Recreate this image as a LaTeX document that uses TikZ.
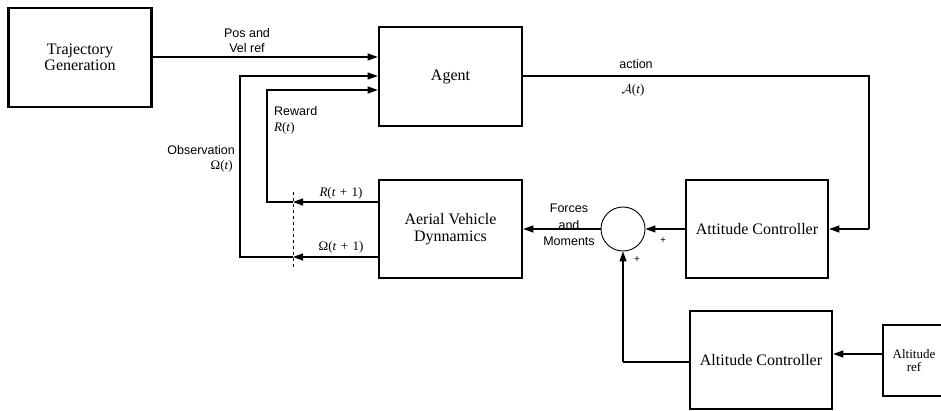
\RequirePackage{fix-cm}
\documentclass[tikz,border=0pt]{standalone}
\usepackage{fontspec}
\setmainfont{Liberation Serif}
\setsansfont{Liberation Sans}
\usetikzlibrary{arrows.meta,calc}
\begin{document}
\begin{tikzpicture}[x=1pt,y=-1pt,
  blk/.style={draw,line width=2.6pt,inner sep=0pt,align=center,font=\fontsize{16}{16.5}\selectfont},
  lbl/.style={font=\sffamily\fontsize{12.5}{15}\selectfont,inner sep=0pt,align=center},
  mlbl/.style={font=\fontsize{13}{15}\selectfont,inner sep=0pt},
  conn/.style={line width=1.1pt},
  arr/.style={conn,-{Triangle[length=10pt,width=7pt]}},
]
\clip (0,0) rectangle (941,411);
\fill[white] (0,0) rectangle (941,411);
% blocks
\node[blk,minimum width=143pt,minimum height=99pt] (traj) at (80,57.5) {Trajectory\\Generation};
\node[blk,minimum width=143pt,minimum height=99pt] (agent) at (450.5,76.5) {Agent};
\node[blk,minimum width=143pt,minimum height=98pt] (avd) at (450.5,229) {Aerial Vehicle\\Dynnamics};
\node[blk,minimum width=142pt,minimum height=98pt] (attc) at (757,229) {Attitude Controller};
\node[blk,minimum width=142pt,minimum height=98pt] (altc) at (761,360) {Altitude Controller};
\node[blk,minimum width=68pt,minimum height=71pt,font=\fontsize{13}{13.5}\selectfont] (altref) at (917,360.5) {\hspace*{-6pt}Altitude\\\hspace*{-6pt}ref};
\node[draw,circle,line width=0.9pt,minimum size=44pt,inner sep=0pt] (sum) at (623,229) {};
% helper coordinates
\coordinate (yPos) at (0,57);
\coordinate (yObs) at (0,76);
\coordinate (yRew) at (0,90);
\coordinate (yRout) at (0,202);
\coordinate (yOout) at (0,257);
\coordinate (xObs) at (240,0);
\coordinate (xRew) at (267,0);
\coordinate (xAct) at (869,0);
\coordinate (dtop) at (293,192);
\coordinate (dbot) at (293,268);
\coordinate (yAlt) at (0,362);
\coordinate (yRef) at (0,354);
% connectors
\draw[arr] (traj.east|-yPos) -- (agent.west|-yPos);
\draw[conn] (agent.east|-yObs) -- (xAct|-yObs) -- (xAct|-attc.east);
\draw[arr] (xAct|-attc.east) -- (attc.east);
\draw[arr] (attc.west) -- (sum.east);
\draw[arr] (sum.west) -- (avd.east|-sum.west);
\draw[conn] (altc.west|-yAlt) -- (sum|-yAlt);
\draw[arr] (sum|-yAlt) -- (sum.south);
\draw[arr] (altref.west|-yRef) -- (altc.east|-yRef);
% feedback paths
\draw[arr] (avd.west|-yRout) -- (dtop|-yRout);
\draw[arr] (dtop|-yRout) -- (xRew|-yRout) -- (xRew|-yRew) -- (agent.west|-yRew);
\draw[arr] (avd.west|-yOout) -- (dtop|-yOout);
\draw[arr] (dtop|-yOout) -- (xObs|-yOout) -- (xObs|-yObs) -- (agent.west|-yObs);
\draw[dashed,line width=0.8pt] (dtop) -- (dbot);
% labels
\node[lbl] (lpos) at (247,41) {Pos and\\Vel ref};
\node[lbl] (lact) at (636,64) {action};
\node[mlbl] (lactm) at (633,90) {$\mathcal{A}$(\textit{t})};
\node[lbl,anchor=west] (lrew) at (274,111) {Reward};
\node[mlbl,anchor=west] (lrewm) at (274,128) {\textit{R}(\textit{t})};
\node[lbl,anchor=east] (lobs) at (235,150) {Observation};
\node[mlbl,anchor=east] (lobsm) at (233,166) {Ω(\textit{t})};
\node[mlbl] (lr1) at (341,193) {\textit{R}(\textit{t}\,\,+\,\,1)};
\node[mlbl] (lo1) at (341,247) {Ω(\textit{t}\,\,+\,\,1)};
\node[lbl,font=\sffamily\fontsize{12.5}{16.5}\selectfont] (lfm) at (569,225) {Forces\\and\\Moments};
\node[lbl,font=\sffamily\fontsize{10}{10}\selectfont] (p1) at (663,241) {+};
\node[lbl,font=\sffamily\fontsize{10}{10}\selectfont] (p2) at (637,260) {+};
\end{tikzpicture}
\end{document}
